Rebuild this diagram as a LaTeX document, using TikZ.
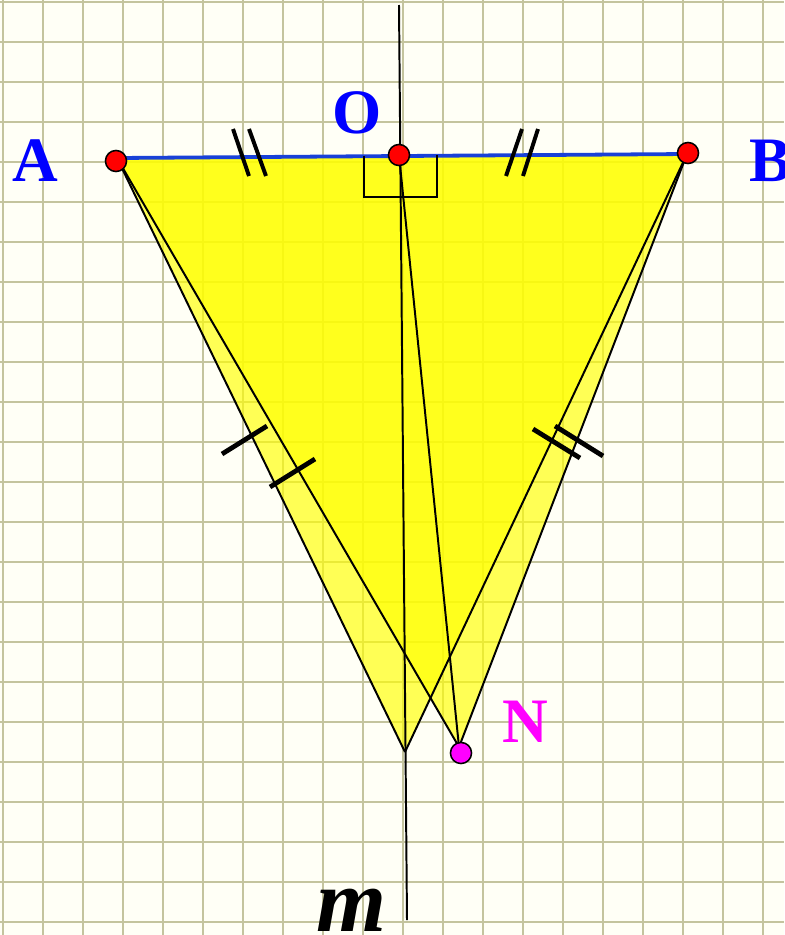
\documentclass[tikz,border=0pt]{standalone}
\usepackage{fontspec}
\setmainfont{Liberation Serif}
\definecolor{gridolive}{RGB}{196,196,158}
\definecolor{paper}{RGB}{255,255,246}
\definecolor{segblue}{RGB}{25,65,215}
\definecolor{fillyellow}{RGB}{255,255,0}
\definecolor{ptmagenta}{RGB}{255,0,255}
\definecolor{ptred}{RGB}{255,0,0}
\definecolor{txtblue}{RGB}{0,0,255}

\begin{document}
\begin{tikzpicture}[
  x=0.025cm, y=-0.025cm,
  gridline/.style={draw=gridolive, line width=1.5pt},
  face/.style={fill=fillyellow, fill opacity=0.65},
  edge/.style={draw=black, line width=1.4pt},
  baseline seg/.style={draw=segblue, line width=2.7pt},
  tickmark/.style={draw=black, line width=3.4pt},
  vertex/.style={circle, draw=black, line width=1.1pt, minimum size=15pt, inner sep=0pt},
  lbl/.style={font=\fontsize{45}{54}\selectfont\bfseries, inner sep=0pt},
]

% ---- paper and grid ----
\useasboundingbox (0,0) rectangle (784,935);
\fill[paper] (0,0) rectangle (784,935);
\foreach \i in {0,...,19} {
  \draw[gridline] (3.3+40*\i,0) -- (3.3+40*\i,935);
}
\foreach \j in {0,...,23} {
  \draw[gridline] (0,1.7+40*\j) -- (784,1.7+40*\j);
}

% ---- points ----
\coordinate (A)    at (117, 158);
\coordinate (B)    at (687, 154);
\coordinate (O)    at (399, 155);
\coordinate (P)    at (405, 752);
\coordinate (N)    at (459, 747);
\coordinate (mtop) at (399, 5);
\coordinate (mbot) at (407, 920);

% ---- the two triangles ----
\fill[face] (A) -- (B) -- (P) -- cycle;
\fill[face] (A) -- (B) -- (N) -- cycle;

% ---- line m and the sides ----
\draw[edge] (mtop) -- (mbot);
\draw[edge] (A) -- (P);
\draw[edge] (B) -- (P);
\draw[edge] (A) -- (N);
\draw[edge] (B) -- (N);
\draw[edge] (O) -- (N);
\draw[baseline seg] (A) -- (B);

% ---- right angle at O ----
\draw[edge, line width=1.1pt] (364,156) -- (364,197) -- (437,197) -- (437,155);

% ---- equal-length marks ----
\draw[tickmark, line width=2.8pt] (233,129) -- (249,176);
\draw[tickmark, line width=2.8pt] (249,129) -- (266,176);
\draw[tickmark, line width=2.8pt] (522,129) -- (506,176);
\draw[tickmark, line width=2.8pt] (538,129) -- (523,176);
\draw[tickmark] (222,454) -- (267,426);
\draw[tickmark] (270,487) -- (315,459);
\draw[tickmark] (533,429) -- (580,458);
\draw[tickmark] (555,426) -- (603,456);

% ---- vertices ----
\node[vertex, fill=ptred]     (dotA) at (116, 161) {};
\node[vertex, fill=ptred]     (dotB) at (688, 153) {};
\node[vertex, fill=ptred]     (dotO) at (399, 155) {};
\node[vertex, fill=ptmagenta] (dotN) at (461, 753) {};

% ---- labels ----
\node[lbl, text=txtblue]   (labA) at (35, 161)  {A};
\node[lbl, text=txtblue]   (labO) at (357, 113) {O};
\node[lbl, text=txtblue, anchor=west] (labB) at (749, 161) {B};
\node[lbl, text=ptmagenta] (labN) at (525, 722) {N};
\node[inner sep=0pt, anchor=base, font=\fontsize{64}{72}\selectfont\bfseries\itshape]
  (labm) at (351, 931) {m};

\end{tikzpicture}
\end{document}
